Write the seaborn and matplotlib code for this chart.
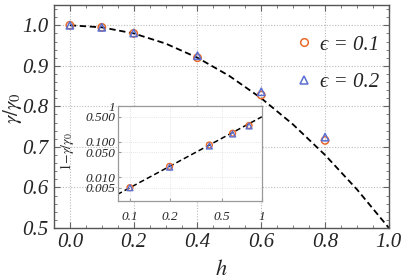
import numpy as np
import pandas as pd
import matplotlib
matplotlib.use("Agg")
import matplotlib.pyplot as plt
import seaborn as sns
from matplotlib.lines import Line2D
from matplotlib.ticker import MultipleLocator, FixedLocator, NullLocator, FormatStrFormatter

# Data
h = [0.0, 0.1, 0.2, 0.4, 0.6, 0.8]
gamma_eps01 = [1.0, 0.995, 0.98, 0.920, 0.828, 0.716]
gamma_eps02 = [1.0, 0.995, 0.981, 0.925, 0.836, 0.724]

# dashed theory curve (read at steps of 0.1)
h_curve = [0.0, 0.1, 0.2, 0.3, 0.4, 0.5, 0.6, 0.7, 0.8, 0.9, 1.0]
gamma_curve = [1.0, 0.995, 0.98, 0.955, 0.92, 0.875, 0.82, 0.755, 0.68, 0.595, 0.5]

# inset: log-log fit line end points
h_fit = [0.08, 1.0]
dev_fit = [0.0032, 0.5]

labels = ["\u03f5 = 0.1", "\u03f5 = 0.2"]
orange = "#e8692a"
blue = "#5b6fd0"

sns.set_style("ticks")
plt.rcParams["font.family"] = ["Liberation Serif", "DejaVu Serif"]
plt.rcParams["mathtext.fontset"] = "stix"

df = pd.DataFrame({
    "h": h * 2,
    "g": gamma_eps01 + gamma_eps02,
    "eps": [labels[0]] * len(h) + [labels[1]] * len(h),
})
curve = pd.DataFrame({"h": h_curve, "g": gamma_curve})


def hollow(axis):
    for coll in axis.collections:
        fc = coll.get_facecolors()
        if len(fc):
            coll.set_edgecolors(fc)
            coll.set_facecolors("none")


fig = plt.figure(figsize=(4.15, 2.8), dpi=100)
ax = fig.add_axes([0.130, 0.186, 0.807, 0.796])

sns.lineplot(data=curve, x="h", y="g", ax=ax, color="black", lw=1.3,
             linestyle=(0, (3.5, 2)), zorder=2)
sns.scatterplot(data=df, x="h", y="g", hue="eps", style="eps",
                markers={labels[0]: "o", labels[1]: "^"},
                palette={labels[0]: orange, labels[1]: blue},
                s=28, linewidth=1.1, ax=ax, zorder=3, legend=False)
hollow(ax)

ax.set_xlim(-0.05, 1.0)
ax.set_ylim(0.5, 1.05)
ax.xaxis.set_major_locator(MultipleLocator(0.2))
ax.xaxis.set_minor_locator(MultipleLocator(0.05))
ax.yaxis.set_major_locator(MultipleLocator(0.1))
ax.yaxis.set_minor_locator(MultipleLocator(0.02))
ax.xaxis.set_major_formatter(FormatStrFormatter("%.1f"))
ax.yaxis.set_major_formatter(FormatStrFormatter("%.1f"))
ax.tick_params(which="both", direction="in", top=True, right=True,
               color="#666666", labelsize=15, pad=4)
ax.tick_params(which="major", length=4, width=0.8)
ax.tick_params(which="minor", length=2, width=0.6)
for lab in ax.get_xticklabels() + ax.get_yticklabels():
    lab.set_fontstyle("italic")
ax.grid(True, which="major", color="#bbbbbb", linestyle=(0, (1, 1.5)), lw=0.8)
for sp in ax.spines.values():
    sp.set_color("#555555")
    sp.set_linewidth(1.0)
ax.set_xlabel("$h$", fontsize=16)
ax.xaxis.set_label_coords(0.5, -0.145)
ax.set_ylabel(r"$\gamma/\gamma_0$", fontsize=15)
ax.yaxis.set_label_coords(-0.088, 0.54)

handles = [
    Line2D([], [], marker="o", ls="none", mfc="none", mec=orange, mew=1.1, ms=5.5),
    Line2D([], [], marker="^", ls="none", mfc="none", mec=blue, mew=1.1, ms=5.5),
]
leg = ax.legend(handles, labels, loc="upper right", bbox_to_anchor=(1.028, 0.95),
                frameon=False, fontsize=15, handletextpad=0.3,
                labelspacing=0.85, handlelength=1.0)
for t in leg.get_texts():
    t.set_fontstyle("italic")

# inset
ins = fig.add_axes([0.284, 0.282, 0.347, 0.339])
h_in = [x for x in h if x > 0]
dev01 = [1 - g for x, g in zip(h, gamma_eps01) if x > 0]
dev02 = [1 - g for x, g in zip(h, gamma_eps02) if x > 0]
ins_df = pd.DataFrame({
    "h": h_in * 2,
    "d": dev01 + dev02,
    "eps": [labels[0]] * len(h_in) + [labels[1]] * len(h_in),
})
fit = pd.DataFrame({"h": h_fit, "d": dev_fit})
sns.lineplot(data=fit, x="h", y="d", ax=ins, color="black", lw=1.1,
             linestyle=(0, (3.5, 2)), zorder=2)
sns.scatterplot(data=ins_df, x="h", y="d", hue="eps", style="eps",
                markers={labels[0]: "o", labels[1]: "^"},
                palette={labels[0]: orange, labels[1]: blue},
                s=18, linewidth=1.0, ax=ins, zorder=3, legend=False)
hollow(ins)
ins.set_xscale("log")
ins.set_yscale("log")
ins.set_xlim(0.081, 1.0)
ins.set_ylim(0.0021, 1.0)
ins.xaxis.set_major_locator(FixedLocator([0.1, 0.2, 0.5, 1.0]))
ins.xaxis.set_minor_locator(NullLocator())
ins.yaxis.set_major_locator(FixedLocator([0.005, 0.01, 0.05, 0.1, 0.5, 1.0]))
ins.yaxis.set_minor_locator(NullLocator())
ins.set_xticklabels(["0.1", "0.2", "0.5", "1"])
ins.set_yticklabels(["0.005", "0.010", "0.050", "0.100", "0.500", "1"])
ins.tick_params(which="both", direction="in", length=2, color="#999999",
                labelsize=9.5, pad=2)
for lab in ins.get_xticklabels() + ins.get_yticklabels():
    lab.set_fontstyle("italic")
ins.tick_params(axis="x", pad=7)
ins.grid(True, which="major", color="#dddddd", linestyle=(0, (1, 1.5)), lw=0.6)
for sp in ins.spines.values():
    sp.set_color("#999999")
    sp.set_linewidth(0.9)
ins.set_xlabel("")
ins.set_ylabel(r"$1\!-\!\gamma/\gamma_0$", fontsize=10)
ins.yaxis.set_label_coords(-0.29, 0.52)
ins.set_facecolor("white")

fig.savefig("out.png", dpi=100)
